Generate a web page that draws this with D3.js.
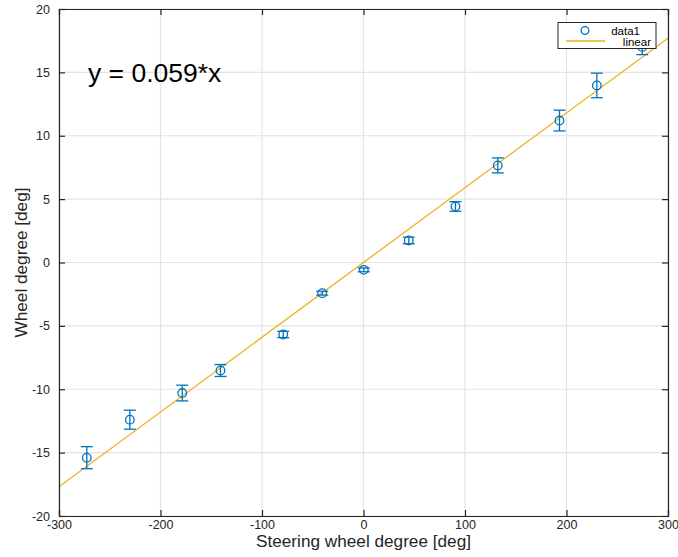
<!DOCTYPE html>
<html><head><meta charset="utf-8">
<script src="https://cdn.jsdelivr.net/npm/d3@7"></script>
<style>body{margin:0;background:#fff;} text{font-family:"Liberation Sans",Arial,Helvetica,sans-serif;}</style>
</head><body>
<svg id="c" width="678" height="557"></svg>
<script>
const steering = [-272.6, -230.2, -178.6, -140.9, -79.1, -40.7, 0.3, 44.6, 90.6, 132.3, 193.1, 229.9, 274.6];
const wheel    = [-15.4, -12.4, -10.3, -8.52, -5.68, -2.42, -0.58, 1.74, 4.42, 7.66, 11.2, 13.97, 17.0];
const errs     = [0.87, 0.75, 0.62, 0.47, 0.25, 0.15, 0.15, 0.26, 0.38, 0.59, 0.82, 0.97, 0.6];
const slope = 0.059;
const xTicks = [-300, -200, -100, 0, 100, 200, 300];
const yTicks = [-20, -15, -10, -5, 0, 5, 10, 15, 20];

const svg = d3.select("#c");
const L = 59, R = 668, T = 9, B = 516;
const x = d3.scaleLinear().domain([-300, 300]).range([L, R]);
const y = d3.scaleLinear().domain([-20, 20]).range([B, T]);
const blue = "#0072BD", orange = "#EDB120", axc = "#262626";
const fmt = d => String(d);

// grid
svg.append("g").selectAll("line").data(xTicks).join("line")
  .attr("x1", d => x(d)).attr("x2", d => x(d)).attr("y1", T).attr("y2", B)
  .attr("stroke", "#e3e3e3").attr("stroke-width", 1.2);
svg.append("g").selectAll("line").data(yTicks).join("line")
  .attr("y1", d => y(d)).attr("y2", d => y(d)).attr("x1", L).attr("x2", R)
  .attr("stroke", "#e3e3e3").attr("stroke-width", 1.2);

// fit line
svg.append("clipPath").attr("id", "clp").append("rect")
  .attr("x", L).attr("y", T).attr("width", R - L).attr("height", B - T);
svg.append("line").attr("clip-path", "url(#clp)")
  .attr("x1", x(-300)).attr("y1", y(slope * -300))
  .attr("x2", x(300)).attr("y2", y(slope * 300))
  .attr("stroke", orange).attr("stroke-width", 1.3);

// error bars
const data = steering.map((s, i) => ({s, w: wheel[i], e: errs[i]}));
const eg = svg.append("g").attr("stroke", blue).attr("stroke-width", 1.3).attr("fill", "none");
data.forEach(d => {
  eg.append("line").attr("x1", x(d.s)).attr("x2", x(d.s)).attr("y1", y(d.w + d.e)).attr("y2", y(d.w - d.e));
  eg.append("line").attr("x1", x(d.s) - 6).attr("x2", x(d.s) + 6).attr("y1", y(d.w + d.e)).attr("y2", y(d.w + d.e));
  eg.append("line").attr("x1", x(d.s) - 6).attr("x2", x(d.s) + 6).attr("y1", y(d.w - d.e)).attr("y2", y(d.w - d.e));
  eg.append("circle").attr("cx", x(d.s)).attr("cy", y(d.w)).attr("r", 4.3);
});

// axes (ticks inward on all four sides)
const tl = 6;
svg.append("g").attr("class", "xb").attr("transform", `translate(0,${B})`)
  .call(d3.axisBottom(x).tickValues(xTicks).tickSize(-tl).tickPadding(5).tickFormat(fmt));
svg.append("g").attr("transform", `translate(0,${T})`)
  .call(d3.axisTop(x).tickValues(xTicks).tickSize(-tl).tickFormat(""));
svg.append("g").attr("transform", `translate(${L},0)`)
  .call(d3.axisLeft(y).tickValues(yTicks).tickSize(-tl).tickPadding(9).tickFormat(fmt));
svg.append("g").attr("transform", `translate(${R},0)`)
  .call(d3.axisRight(y).tickValues(yTicks).tickSize(-tl).tickFormat(""));
svg.selectAll(".domain").attr("stroke", axc).attr("stroke-width", 1.2);
svg.selectAll(".tick line").attr("stroke", axc).attr("stroke-width", 1.2);
svg.selectAll(".tick text").attr("fill", axc).attr("font-size", 12.5)
  .attr("font-family", "'Liberation Sans', Arial, sans-serif");
svg.selectAll(".xb .tick text").attr("y", 4).attr("dy", "0.71em");

// axis labels
svg.append("text").attr("x", (L + R) / 2).attr("y", 547).attr("text-anchor", "middle")
  .attr("font-size", 17.2).attr("fill", axc).text("Steering wheel degree [deg]");
svg.append("text").attr("transform", `translate(27,${(T + B) / 2}) rotate(-90)`).attr("text-anchor", "middle")
  .attr("font-size", 17.2).attr("fill", axc).text("Wheel degree [deg]");

// equation
svg.append("text").attr("x", 88).attr("y", 82).attr("font-size", 26.5).attr("fill", "#000").text("y = 0.059*x");

// legend
const lg = svg.append("g");
lg.append("rect").attr("x", 558).attr("y", 22.5).attr("width", 98).attr("height", 26)
  .attr("fill", "#fff").attr("stroke", axc).attr("stroke-width", 1);
lg.append("circle").attr("cx", 585).attr("cy", 30.5).attr("r", 3.8).attr("fill", "none").attr("stroke", blue).attr("stroke-width", 1.3);
lg.append("text").attr("x", 640).attr("y", 34.5).attr("text-anchor", "end").attr("font-size", 11.5).attr("fill", "#000").text("data1");
lg.append("line").attr("x1", 566).attr("x2", 605).attr("y1", 41).attr("y2", 41).attr("stroke", orange).attr("stroke-width", 1.3);
lg.append("text").attr("x", 651).attr("y", 45.5).attr("text-anchor", "end").attr("font-size", 11.5).attr("fill", "#000").text("linear");
</script>
</body></html>
